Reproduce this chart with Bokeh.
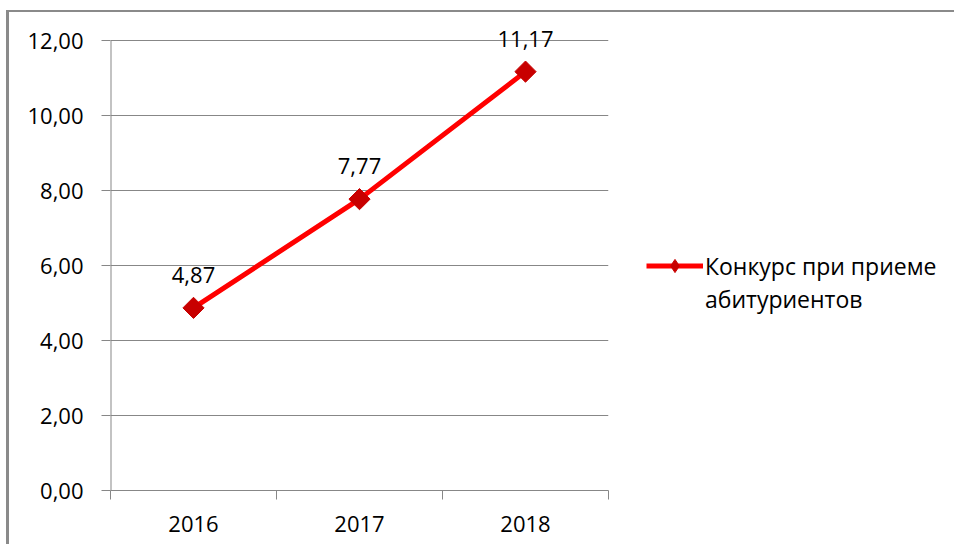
import math
from bokeh.plotting import figure
from bokeh.models import (Range1d, FixedTicker, ColumnDataSource, LabelSet, Legend, LegendItem)
from bokeh.core.properties import value
from bokeh.embed import file_html
from bokeh.resources import INLINE

years = ["2016", "2017", "2018"]
values = [4.87, 7.77, 11.17]
value_labels = ["4,87", "7,77", "11,17"]
y_ticks = [0, 2, 4, 6, 8, 10, 12]
y_tick_labels = ["0,00", "2,00", "4,00", "6,00", "8,00", "10,00", "12,00"]
series_name_lines = ["Конкурс при приеме", "абитуриентов"]

FONT = "Open Sans"
GRAY = "#878787"
RED = "#ff0000"
DARKRED = "#c80000"
Y_END = 12.64  # headroom above the 12,00 line for the data labels

xs = [i + 0.5 for i in range(len(years))]
src = ColumnDataSource(dict(x=xs, y=values, lab=value_labels))

p = figure(width=944, height=532, output_backend="svg", toolbar_location=None,
           x_range=Range1d(0, len(years)), y_range=Range1d(0, Y_END),
           frame_width=498, frame_height=474,
           min_border_left=101, min_border_right=345, min_border_top=4, min_border_bottom=54)
p.styles = {"margin-left": "6px", "margin-top": "10px",
            "border-left": "3px solid #8a8a8a", "border-top": "2px solid #8a8a8a"}
p.outline_line_color = None
p.background_fill_color = "white"

# y axis (line drawn separately so it stops at the top tick)
p.yaxis.ticker = FixedTicker(ticks=y_ticks, minor_ticks=[])
p.yaxis.major_label_overrides = {t: l for t, l in zip(y_ticks, y_tick_labels)}
p.yaxis.axis_line_color = None
p.yaxis.major_tick_line_color = GRAY
p.yaxis.major_tick_out = 9
p.yaxis.major_tick_in = 0
p.yaxis.minor_tick_line_color = None
p.yaxis.major_label_text_font = FONT
p.yaxis.major_label_text_font_size = "22px"
p.yaxis.major_label_text_color = "black"
p.yaxis.major_label_standoff = 18
p.segment(x0=[0], y0=[y_ticks[0]], x1=[0], y1=[y_ticks[-1]], line_color=GRAY, line_width=2)

# x axis
p.xaxis.ticker = FixedTicker(ticks=xs, minor_ticks=list(range(len(years) + 1)))
p.xaxis.major_label_overrides = {x: y for x, y in zip(xs, years)}
p.xaxis.axis_line_color = GRAY
p.xaxis.major_tick_line_color = None
p.xaxis.major_tick_out = 0
p.xaxis.major_tick_in = 0
p.xaxis.minor_tick_line_color = GRAY
p.xaxis.minor_tick_out = 9
p.xaxis.minor_tick_in = 0
p.xaxis.major_label_text_font = FONT
p.xaxis.major_label_text_font_size = "22px"
p.xaxis.major_label_text_color = "black"
p.xaxis.major_label_standoff = 16

p.xgrid.visible = False
p.ygrid.grid_line_color = GRAY
p.ygrid.grid_line_width = 1

ln = p.line("x", "y", source=src, line_color=RED, line_width=5)
# diamond used for the legend swatch; fully hidden under the rotated squares
dia = p.scatter("x", "y", source=src, marker="diamond", size=19,
                fill_color=DARKRED, line_color=DARKRED)
mk = p.scatter("x", "y", source=src, marker="square", angle=math.pi / 4, size=15,
               fill_color=DARKRED, line_color=DARKRED)
blank = p.line(x=[], y=[], line_alpha=0)

labels = LabelSet(x="x", y="y", text="lab", source=src, y_offset=25, text_align="center",
                  text_baseline="alphabetic", text_font=value(FONT), text_font_size=value("22px"),
                  text_color="black")
p.add_layout(labels)

legend = Legend(items=[LegendItem(label=series_name_lines[0], renderers=[ln, dia]),
                       LegendItem(label=series_name_lines[1], renderers=[blank])],
                location=(38, 175), padding=0, margin=0, spacing=0, border_line_color=None,
                background_fill_alpha=0, glyph_width=57, glyph_height=33, label_standoff=2,
                label_text_font=FONT, label_text_font_size="23px", label_text_color="black")
p.add_layout(legend, "right")

open("out.html", "w").write(file_html(p, INLINE))
